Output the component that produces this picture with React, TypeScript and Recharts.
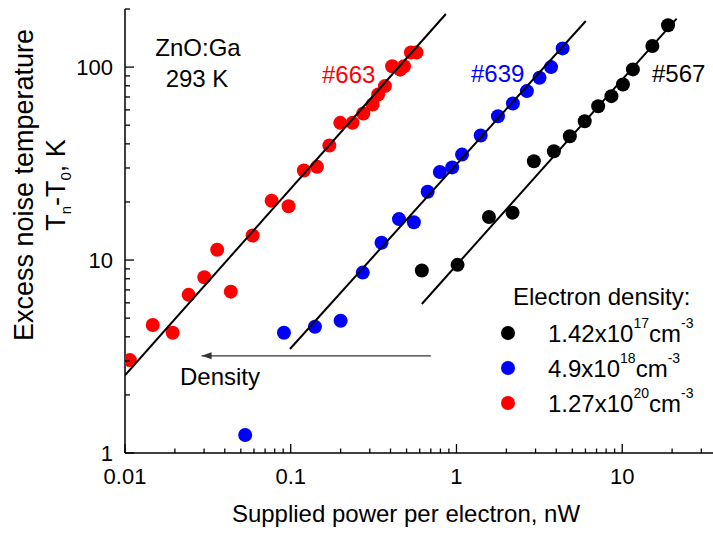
import React from "react";
import { ScatterChart, Scatter, XAxis, YAxis } from "recharts";

const FONT = '"Liberation Sans", Arial, Helvetica, sans-serif';

// #663, 1.27x10^20 cm^-3
const RED_X = [0.0107, 0.0147, 0.0194, 0.0242, 0.0301, 0.036, 0.0435, 0.0589, 0.0767, 0.097, 0.12, 0.144, 0.171, 0.199, 0.236, 0.274, 0.312, 0.337, 0.37, 0.409, 0.457, 0.482, 0.531, 0.574];
const RED_Y = [3.03, 4.61, 4.2, 6.6, 8.15, 11.3, 6.86, 13.4, 20.3, 19.0, 29.1, 30.4, 39.2, 51.4, 51.4, 57.5, 64.0, 72.1, 79.7, 101, 97, 101, 119, 119];

// #639, 4.9x10^18 cm^-3
const BLUE_X = [0.0531, 0.091, 0.14, 0.2, 0.272, 0.353, 0.45, 0.553, 0.67, 0.794, 0.942, 1.08, 1.4, 1.78, 2.19, 2.66, 3.17, 3.72, 4.37];
const BLUE_Y = [1.24, 4.2, 4.51, 4.85, 8.61, 12.3, 16.3, 15.7, 22.6, 28.6, 30.2, 35.2, 44.2, 55.6, 64.8, 75.1, 88.1, 100, 125];

// #567, 1.42x10^17 cm^-3
const BLACK_X = [0.618, 1.015, 1.57, 2.18, 2.93, 3.87, 4.83, 5.94, 7.16, 8.61, 10.1, 11.6, 15.2, 18.9];
const BLACK_Y = [8.82, 9.44, 16.7, 17.6, 32.5, 36.6, 43.8, 52.4, 62.7, 70.7, 81.3, 97.3, 128.5, 164.7];

// straight fits (end points)
const RED_FIT_X = [0.01, 0.863];
const RED_FIT_Y = [2.53, 188.5];
const BLUE_FIT_X = [0.0989, 6.03];
const BLUE_FIT_Y = [3.46, 173.4];
const BLACK_FIT_X = [0.618, 21.3];
const BLACK_FIT_Y = [5.92, 178.4];

// "Density" arrow, tail -> tip
const ARROW_X = [0.7, 0.029];
const ARROW_Y = [3.19, 3.19];

const X_DOMAIN = [0.01, 40];
const Y_DOMAIN = [1, 200];
const X_DECADES = [0.01, 0.1, 1, 10];
const Y_DECADES = [1, 10, 100];
const MULT = [1, 2, 3, 4, 5, 6, 7, 8, 9];

const pts = (xs: number[], ys: number[]) => xs.map((x, i) => ({ x, y: ys[i] }));

const logTicks = (decades: number[], max: number) =>
  decades.flatMap((d) => MULT.map((m) => d * m)).filter((v) => v <= max * 1.0001);

const isMajor = (v: number) => {
  const l = Math.log10(v);
  return Math.abs(l - Math.round(l)) < 1e-6;
};

const BottomTick = (props: any) => {
  const { x, y, payload } = props;
  const major = isMajor(payload.value);
  return (
    <g>
      <line x1={x} x2={x} y1={y} y2={y - (major ? 9 : 4.5)} stroke="#000" strokeWidth={1.3} />
      {major && (
        <text x={x} y={y + 31} textAnchor="middle" fontSize={22} fontFamily={FONT} fill="#000">
          {String(payload.value)}
        </text>
      )}
    </g>
  );
};

const TopTick = (props: any) => {
  const { x, y, payload } = props;
  const major = isMajor(payload.value);
  return <line x1={x} x2={x} y1={y} y2={y + (major ? 9 : 5)} stroke="#000" strokeWidth={1.3} />;
};

const LeftTick = (props: any) => {
  const { x, y, payload } = props;
  const major = isMajor(payload.value);
  return (
    <g>
      <line x1={x} x2={x + (major ? 9 : 5)} y1={y} y2={y} stroke="#000" strokeWidth={1.3} />
      {major && (
        <text x={x - 12} y={y + 7.5} textAnchor="end" fontSize={22} fontFamily={FONT} fill="#000">
          {String(payload.value)}
        </text>
      )}
    </g>
  );
};

const dot = (color: string) => (p: any) => <circle cx={p.cx} cy={p.cy} r={7} fill={color} />;
const none = () => <g />;
const arrowHead = (p: any) =>
  p.payload.x === ARROW_X[1] ? (
    <polygon
      points={`${p.cx},${p.cy} ${p.cx + 10},${p.cy - 3.5} ${p.cx + 10},${p.cy + 3.5}`}
      fill="#333"
    />
  ) : (
    <g />
  );

const axisLine = { stroke: "#000", strokeWidth: 1.5 };

export default function App() {
  const xTicks = logTicks(X_DECADES, X_DOMAIN[1]);
  const yTicks = logTicks(Y_DECADES, Y_DOMAIN[1]);

  return (
    <div
      style={{
        position: "absolute",
        left: 0,
        top: 0,
        width: 713,
        height: 533,
        overflow: "hidden",
        background: "#fff",
        fontFamily: FONT,
      }}
    >
      <ScatterChart width={730} height={533} margin={{ top: 9, right: 8, bottom: 0, left: 0 }}>
        <XAxis
          xAxisId="b"
          type="number"
          dataKey="x"
          scale="log"
          domain={X_DOMAIN}
          allowDataOverflow
          ticks={xTicks}
          interval={0}
          height={80}
          tickSize={0}
          tickMargin={0}
          tickLine={false}
          axisLine={axisLine}
          tick={<BottomTick />}
        />
        <XAxis
          xAxisId="t"
          orientation="top"
          type="number"
          dataKey="x"
          scale="log"
          domain={X_DOMAIN}
          allowDataOverflow
          ticks={xTicks}
          interval={0}
          height={0}
          tickSize={0}
          tickMargin={0}
          tickLine={false}
          axisLine={axisLine}
          tick={<TopTick />}
        />
        <YAxis
          type="number"
          dataKey="y"
          scale="log"
          domain={Y_DOMAIN}
          allowDataOverflow
          ticks={yTicks}
          interval={0}
          width={125}
          tickSize={0}
          tickMargin={0}
          tickLine={false}
          axisLine={axisLine}
          tick={<LeftTick />}
        />
        <Scatter xAxisId="b" data={pts(RED_X, RED_Y)} shape={dot("#ff0000")} isAnimationActive={false} />
        <Scatter xAxisId="b" data={pts(BLUE_X, BLUE_Y)} shape={dot("#0000ff")} isAnimationActive={false} />
        <Scatter xAxisId="b" data={pts(BLACK_X, BLACK_Y)} shape={dot("#000000")} isAnimationActive={false} />
        <Scatter
          xAxisId="b"
          data={pts(RED_FIT_X, RED_FIT_Y)}
          line={{ stroke: "#000", strokeWidth: 2 }}
          shape={none}
          isAnimationActive={false}
        />
        <Scatter
          xAxisId="b"
          data={pts(BLUE_FIT_X, BLUE_FIT_Y)}
          line={{ stroke: "#000", strokeWidth: 2 }}
          shape={none}
          isAnimationActive={false}
        />
        <Scatter
          xAxisId="b"
          data={pts(BLACK_FIT_X, BLACK_FIT_Y)}
          line={{ stroke: "#000", strokeWidth: 2 }}
          shape={none}
          isAnimationActive={false}
        />
        <Scatter
          xAxisId="b"
          data={pts(ARROW_X, ARROW_Y)}
          line={{ stroke: "#333", strokeWidth: 1.2 }}
          shape={arrowHead}
          isAnimationActive={false}
        />
      </ScatterChart>

      <svg
        width={713}
        height={533}
        style={{ position: "absolute", left: 0, top: 0, pointerEvents: "none" }}
        fontFamily={FONT}
      >
        <text x={198} y={56} textAnchor="middle" fontSize={24}>ZnO:Ga</text>
        <text x={197} y={87} textAnchor="middle" fontSize={24}>293 K</text>
        <text x={322} y={83} fontSize={24} fill="#ff0000">#663</text>
        <text x={471} y={82} fontSize={24} fill="#0000ff">#639</text>
        <text x={652} y={82} fontSize={24} fill="#000">#567</text>
        <text x={180} y={385} fontSize={24}>Density</text>

        <text x={513} y={305} fontSize={24}>Electron density:</text>
        {[
          { c: "#000000", m: "1.42x10", e: "17", y: 333 },
          { c: "#0000ff", m: "4.9x10", e: "18", y: 368 },
          { c: "#ff0000", m: "1.27x10", e: "20", y: 403 },
        ].map((r) => (
          <g key={r.e}>
            <circle cx={508} cy={r.y} r={7} fill={r.c} />
            <text x={548} y={r.y + 9} fontSize={24}>
              {r.m}
              <tspan fontSize={14} dy={-14}>{r.e}</tspan>
              <tspan dy={14}>cm</tspan>
              <tspan fontSize={14} dy={-14}>-3</tspan>
            </text>
          </g>
        ))}

        <text x={406} y={522} textAnchor="middle" fontSize={24}>Supplied power per electron, nW</text>
        <text transform="translate(33,185) rotate(-90)" textAnchor="middle" fontSize={27}>
          Excess noise temperature
        </text>
        <text transform="translate(65,185) rotate(-90)" textAnchor="middle" fontSize={27}>
          T<tspan fontSize={15} dy={6}>n</tspan>
          <tspan dy={-6}>-T</tspan>
          <tspan fontSize={15} dy={6}>0</tspan>
          <tspan dy={-6}>, K</tspan>
        </text>
      </svg>
    </div>
  );
}
